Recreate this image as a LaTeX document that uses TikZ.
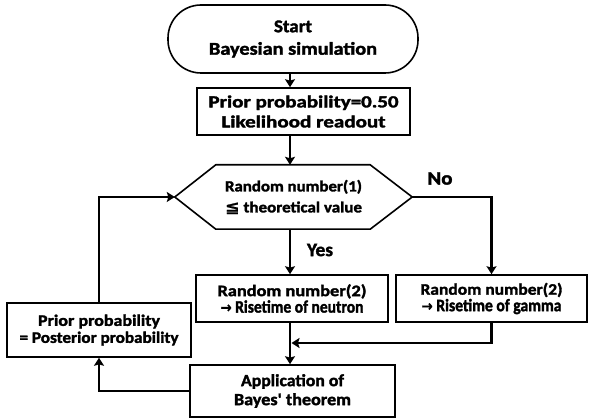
\documentclass[tikz,border=0pt]{standalone}
\usepackage{graphicx}
\usepackage{fontspec}
\setmainfont{Carlito}[BoldFeatures={FakeBold=1.8}]
\newfontfamily\symfont{DejaVu Sans}[BoldFeatures={FakeBold=1}]
\usetikzlibrary{arrows.meta}
\newcommand\fw[2]{\resizebox{#1pt}{\height}{#2}}
\begin{document}
\begin{tikzpicture}[x=1pt,y=-1pt,
  every node/.style={align=center, inner sep=0pt},
  txt/.style 2 args={font=\bfseries\fontsize{#1}{#2}\selectfont},
  box/.style={draw, line width=1.6pt, minimum width=#1, minimum height=47pt},
  conn/.style={line width=2.6pt},
  arr/.style={conn, -{Stealth[length=8pt,width=10pt,inset=1.5pt]}}
]
\useasboundingbox (0,0) rectangle (589,419);
\node[draw, line width=1.6pt, rounded corners=33pt, minimum width=250pt, minimum height=68pt, txt={18}{22.5}] (start) at (293,39) {\fw{38}{Start}\\\fw{168}{Bayesian simulation}};
\node[box=213pt, txt={17}{20}] (prior0) at (303.5,111.5) {\fw{190}{Prior probability=0.50}\\\fw{164}{Likelihood readout}};
\node[minimum width=237pt, minimum height=64pt, txt={15.5}{21}] (hex) at (293.5,197) {\fw{137}{Random number(1)}\\\fw{137}{{\symfont\bfseries\fontsize{16}{16}\selectfont ≦} theoretical value}};
\draw[line width=1.6pt] (hex.west) -- ([xshift=41pt]hex.north west) -- ([xshift=-42pt]hex.north east) -- (hex.east) -- ([xshift=-42pt]hex.south east) -- ([xshift=41pt]hex.south west) -- cycle;
\node[box=192pt, txt={16}{16.5}] (neutron) at (292,298.5) {\fw{149}{Random number(2)}\\\fw{143}{\fontsize{17.5}{16.5}\selectfont{\symfont\bfseries\fontsize{15}{15}\selectfont →} Risetime of neutron}};
\node[box=191pt, txt={16}{16.5}] (gamma) at (491.5,298.5) {\fw{142}{Random number(2)}\\\fw{140}{\fontsize{17.5}{16.5}\selectfont{\symfont\bfseries\fontsize{15}{15}\selectfont →} Risetime of gamma}};
\node[box=205pt, minimum height=52pt, txt={17}{19}] (bayes) at (292.5,391) {\fw{103}{Application of}\\\fw{117}{Bayes\textquotesingle\ theorem}};
\node[box=184pt, minimum height=54pt, txt={16}{17}] (post) at (99,330) {\fw{122}{Prior probability}\\\fw{159}{= Posterior probability}};
\node[txt={19}{19}] (no) at (440,178.5) {\fw{25}{No}};
\node[txt={19}{19}] (yes) at (320,250) {\fw{26}{Yes}};
\coordinate (mx) at (290,0);
\coordinate (join) at (291.5,343);
\draw[arr] (start.south -| mx) -- (prior0.north -| mx);
\draw[arr] (prior0.south -| mx) -- (hex.north -| mx);
\draw[arr] (hex.south -| mx) -- (neutron.north -| mx);
\draw[arr] (hex.east) -| (gamma.north);
\draw[arr] (gamma.south) |- (join);
\draw[arr] (neutron.south -| mx) -- (bayes.north -| mx);
\draw[arr] (bayes.west) -| (post.south);
\draw[arr] (post.north) |- (hex.west);
\end{tikzpicture}
\end{document}
